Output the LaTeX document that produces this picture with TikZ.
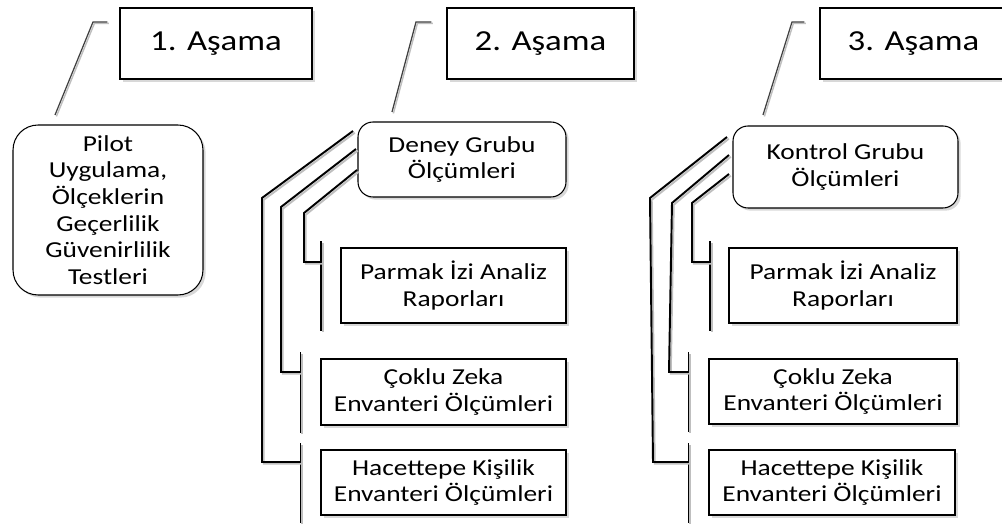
\documentclass[tikz,border=0pt]{standalone}
\usepackage{fontspec}
\setmainfont[FakeStretch=1.2]{Carlito}
\usetikzlibrary{positioning,shadows}

\tikzset{
  shade_box/.style={drop shadow={shadow xshift=1.5pt, shadow yshift=-1.5pt, opacity=0.3}},
  stage/.style={draw, fill=white, line width=0.8pt, shade_box, font=\fontsize{16.5}{19}\selectfont,
    minimum height=1.42cm, inner sep=0pt},
  group/.style={draw, fill=white, rounded corners=0.3cm, line width=0.6pt, shade_box, align=center,
    font=\fontsize{13}{15.2}\selectfont, inner sep=0pt},
  measure/.style={draw, fill=white, line width=0.8pt, shade_box, align=center,
    font=\fontsize{13}{15.2}\selectfont, inner sep=0pt},
  leader/.style={draw=black!75, line width=0.7pt,
    preaction={draw=black!25, line width=0.8pt, transform canvas={shift={(0.8pt,-0.8pt)}}}},
  branch/.style={draw, line width=1.1pt,
    preaction={draw=black!25, line width=1.1pt, transform canvas={shift={(1pt,-1pt)}}}},
}

\begin{document}
\begin{tikzpicture}[x=0.02cm, y=-0.02cm]
\clip (0,0) rectangle (1002,526);
\fill[white] (0,0) rectangle (1002,526);

% Nodes
\node (stage_one) [stage, minimum width=3.84cm] at (216,43.5) {1. Aşama};
\node (stage_two) [stage, minimum width=3.74cm] at (540.5,43.5) {2. Aşama};
\node (stage_three) [stage, minimum width=3.74cm] at (913.5,43.5) {3. Aşama};

\node (pilot) [group, rounded corners=0.5cm, minimum width=3.8cm, minimum height=3.4cm] at (108,210)
    {Pilot\\Uygulama,\\Ölçeklerin\\Geçerlilik\\Güvenirlilik\\Testleri};
\node (deney) [group, minimum width=4.16cm, minimum height=1.5cm] at (462,159.5) {Deney Grubu\\Ölçümleri};
\node (kontrol) [group, minimum width=4.5cm, minimum height=1.64cm] at (845.5,167) {Kontrol Grubu\\Ölçümleri};

\node (parmak_d) [measure, minimum width=4.5cm, minimum height=1.5cm] at (453.5,285.5) {Parmak İzi Analiz\\Raporları};
\node (coklu_d) [measure, minimum width=4.9cm, minimum height=1.32cm] at (443.5,392) {Çoklu Zeka\\Envanteri Ölçümleri};
\node (hacet_d) [measure, minimum width=4.9cm, minimum height=1.3cm] at (443.5,482.5) {Hacettepe Kişilik\\Envanteri Ölçümleri};

\node (parmak_k) [measure, minimum width=4.56cm, minimum height=1.5cm] at (843,285.5) {Parmak İzi Analiz\\Raporları};
\node (coklu_k) [measure, minimum width=4.96cm, minimum height=1.3cm] at (833,391.5) {Çoklu Zeka\\Envanteri Ölçümleri};
\node (hacet_k) [measure, minimum width=4.92cm, minimum height=1.3cm] at (832,482.5) {Hacettepe Kişilik\\Envanteri Ölçümleri};

% Leader lines to the stage titles
\coordinate (tip_one) at (55,115);
\coordinate (tip_two) at (392,112);
\coordinate (tip_three) at (763,115);
\draw[leader] (tip_one) -- (93,22) -- ([xshift=-6.8pt]stage_one.west |- 0,22);
\draw[leader] (tip_two) -- (416,22) -- ([xshift=-8.5pt]stage_two.west |- 0,22);
\draw[leader] (tip_three) -- (792,22) -- ([xshift=-8.5pt]stage_three.west |- 0,22);

% Bars in front of the measurement boxes
\foreach \mb/\gap in {parmak_d/10.8, coklu_d/11.3, hacet_d/11.3, parmak_k/10.2, coklu_k/11.3, hacet_k/11.3} {
  \coordinate (\mb_top) at ([xshift=-\gap pt, yshift=3.4pt]\mb.north west);
  \coordinate (\mb_bot) at ([xshift=-\gap pt, yshift=-4pt]\mb.south west);
  \draw[branch] (\mb_top) -- (\mb_bot);
}

% Branches, deney grubu
\draw[branch] (353,131) -- (262,198) -- (262,462) -- (hacet_d_top |- 0,462);
\draw[branch] (356,149) -- (281,207) -- (281,372) -- (coklu_d_top |- 0,372);
\draw[branch] (357,170) -- (304,213) -- (304,262) -- (parmak_d_top |- 0,262);

% Branches, kontrol grubu
\draw[branch] (727,137) -- (650,198) -- (653,462) -- (hacet_k_top |- 0,462);
\draw[branch] (729,155) -- (672,203) -- (669,372) -- (coklu_k_top |- 0,372);
\draw[branch] (729,174) -- (692,203) -- (692,262) -- (parmak_k_top |- 0,262);

\end{tikzpicture}
\end{document}
